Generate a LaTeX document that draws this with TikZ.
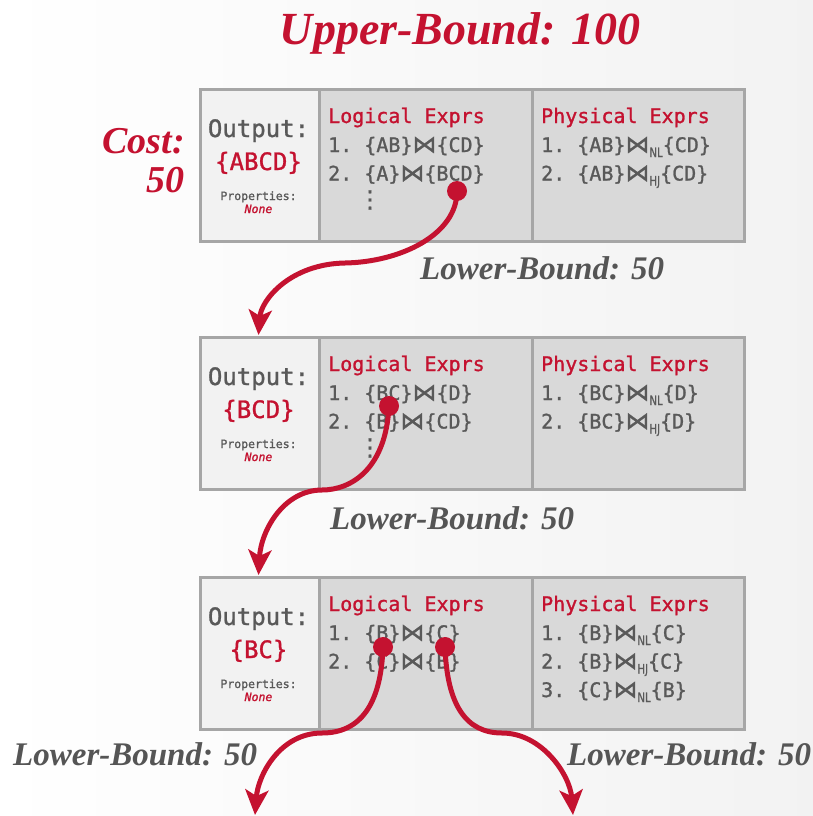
\documentclass[tikz,border=0pt]{standalone}
\usepackage{fontspec}
\setmainfont{Liberation Serif}
\setmonofont{DejaVu Sans Mono}[FakeBold=1.2]
\newfontfamily\symfont{DejaVu Sans}[FakeBold=1.0]
\usetikzlibrary{arrows.meta}

\definecolor{accent}{RGB}{196,18,48}
\definecolor{ink}{RGB}{89,89,89}
\definecolor{boundink}{RGB}{85,85,85}
\definecolor{frame}{RGB}{166,166,166}
\definecolor{cellA}{RGB}{242,242,242}
\definecolor{cellB}{RGB}{217,217,217}

% join symbol and join-algorithm subscript
\newcommand{\jn}{{\symfont\fontsize{24}{20}\selectfont\raisebox{-0.5pt}{⋈}}}
\newcommand{\alg}[1]{\raisebox{-5pt}{\scalebox{0.78}[1]{\symfont\fontsize{13}{13}\selectfont #1}}}

\begin{document}
\begin{tikzpicture}[x=1pt,y=-1pt,
  cell/.style={draw=frame, line width=3pt, anchor=north west, inner sep=0pt, minimum height=152pt},
  outcell/.style={cell, fill=cellA, minimum width=119pt},
  logcell/.style={cell, fill=cellB, minimum width=213pt},
  phycell/.style={cell, fill=cellB, minimum width=212pt},
  outlbl/.style={anchor=base, inner sep=0pt, font=\ttfamily\fontsize{24}{24}\selectfont, text=ink},
  outset/.style={outlbl, text=accent},
  proplbl/.style={anchor=base, inner sep=0pt, font=\ttfamily\fontsize{11.5}{12}\selectfont, text=ink},
  nonelbl/.style={anchor=base, inner sep=0pt, font=\ttfamily\itshape\fontsize{11.5}{12}\selectfont, text=accent},
  head/.style={anchor=base west, inner sep=0pt, font=\ttfamily\fontsize{20}{20}\selectfont, text=accent},
  item/.style={anchor=base west, inner sep=0pt, font=\ttfamily\fontsize{20}{20}\selectfont, text=ink},
  more/.style={anchor=center, inner sep=0pt, font=\symfont\fontsize{24}{24}\selectfont, text=ink},
  bound/.style={anchor=base west, inner sep=0pt, font=\bfseries\itshape\fontsize{33}{33}\selectfont, text=boundink},
  headline/.style={anchor=base, inner sep=0pt, font=\bfseries\itshape\fontsize{46}{46}\selectfont, text=accent},
  costlbl/.style={anchor=base east, inner sep=0pt, font=\bfseries\itshape\fontsize{38}{38}\selectfont, text=accent},
  dotmark/.style={circle, fill=accent, inner sep=0pt, minimum size=20pt},
  flow/.style={draw=accent, line width=5pt, -{Stealth[length=25pt,width=23pt,inset=6pt]}}
]
\useasboundingbox (0,0) rectangle (813,816);
\shade[left color=white, right color=black!5] (0,0) rectangle (813,816);

% ---------- header ----------
\node[headline] (ub) at (460,45) {Upper-Bound: 100};
\node[costlbl] (cost) at (185,153) {Cost:};
\node[costlbl] (costv) at (185,192) {50};

% ---------- group {ABCD} ----------
\node[outcell] (o1) at (199,88) {};
\node[logcell] (l1) at (318,88) {};
\node[phycell] (p1) at (531,88) {};
\node[outlbl] (o1a) at (258.5,137) {Output:};
\node[outset] (o1b) at (258.5,170) {\{ABCD\}};
\node[proplbl] (o1c) at (258.5,200) {Properties:};
\node[nonelbl] (o1d) at (258.5,213) {None};
\node[head] (l1h) at (328,123) {Logical Exprs};
\node[item] (l1a) at (328,152) {1. \{AB\}\jn\{CD\}};
\node[item] (l1b) at (328,180.5) {2. \{A\}\jn\{BCD\}};
\node[more] (l1m) at (370,200) {⋮};
\node[head] (p1h) at (541,123) {Physical Exprs};
\node[item] (p1a) at (541,152) {1. \{AB\}\jn\alg{NL}\{CD\}};
\node[item] (p1b) at (541,180.5) {2. \{AB\}\jn\alg{HJ}\{CD\}};

% ---------- group {BCD} ----------
\node[outcell] (o2) at (199,336) {};
\node[logcell] (l2) at (318,336) {};
\node[phycell] (p2) at (531,336) {};
\node[outlbl] (o2a) at (258.5,385) {Output:};
\node[outset] (o2b) at (258.5,418) {\{BCD\}};
\node[proplbl] (o2c) at (258.5,448) {Properties:};
\node[nonelbl] (o2d) at (258.5,461) {None};
\node[head] (l2h) at (328,371) {Logical Exprs};
\node[item] (l2a) at (328,400) {1. \{BC\}\jn\{D\}};
\node[item] (l2b) at (328,428.5) {2. \{B\}\jn\{CD\}};
\node[more] (l2m) at (370,448) {⋮};
\node[head] (p2h) at (541,371) {Physical Exprs};
\node[item] (p2a) at (541,400) {1.  \{BC\}\jn\alg{NL}\{D\}};
\node[item] (p2b) at (541,428.5) {2.  \{BC\}\jn\alg{HJ}\{D\}};

% ---------- group {BC} ----------
\node[outcell] (o3) at (199,576) {};
\node[logcell] (l3) at (318,576) {};
\node[phycell] (p3) at (531,576) {};
\node[outlbl] (o3a) at (258.5,625) {Output:};
\node[outset] (o3b) at (258.5,658) {\{BC\}};
\node[proplbl] (o3c) at (258.5,688) {Properties:};
\node[nonelbl] (o3d) at (258.5,701) {None};
\node[head] (l3h) at (328,611) {Logical Exprs};
\node[item] (l3a) at (328,640) {1. \{B\}\jn\{C\}};
\node[item] (l3b) at (328,668.5) {2. \{C\}\jn\{B\}};
\node[head] (p3h) at (541,611) {Physical Exprs};
\node[item] (p3a) at (541,640) {1. \{B\}\jn\alg{NL}\{C\}};
\node[item] (p3b) at (541,668.5) {2. \{B\}\jn\alg{HJ}\{C\}};
\node[item] (p3c) at (541,697) {3. \{C\}\jn\alg{NL}\{B\}};

% ---------- lower-bound labels ----------
\node[bound] (lb1) at (420,279) {Lower-Bound: 50};
\node[bound] (lb2) at (330,529) {Lower-Bound: 50};
\node[bound] (lb3) at (13,765) {Lower-Bound: 50};
\node[bound] (lb4) at (567,765) {Lower-Bound: 50};

% ---------- expansion arrows ----------
\coordinate (t1) at (258.5,335);
\coordinate (t2) at (258.5,575);
\coordinate (t3) at (255,815);
\coordinate (t4) at (573,815);
\node[dotmark] (d1) at (457,191) {};
\node[dotmark] (d2) at (389,406) {};
\node[dotmark] (d3) at (383,647) {};
\node[dotmark] (d4) at (445,647) {};
\draw[flow] (d1.center) .. controls (457,235) and (400,262) .. (345,263)
                        .. controls (290,264) and (261,300) .. (t1);
\draw[flow] (d2.center) .. controls (386,468) and (352,490) .. (322,490)
                        .. controls (284,490) and (261,530) .. (t2);
\draw[flow] (d3.center) .. controls (381,705) and (360,733) .. (322,733)
                        .. controls (280,733) and (258,775) .. (t3);
\draw[flow] (d4.center) .. controls (447,705) and (466,733) .. (502,733)
                        .. controls (542,733) and (570,775) .. (t4);
\end{tikzpicture}
\end{document}
